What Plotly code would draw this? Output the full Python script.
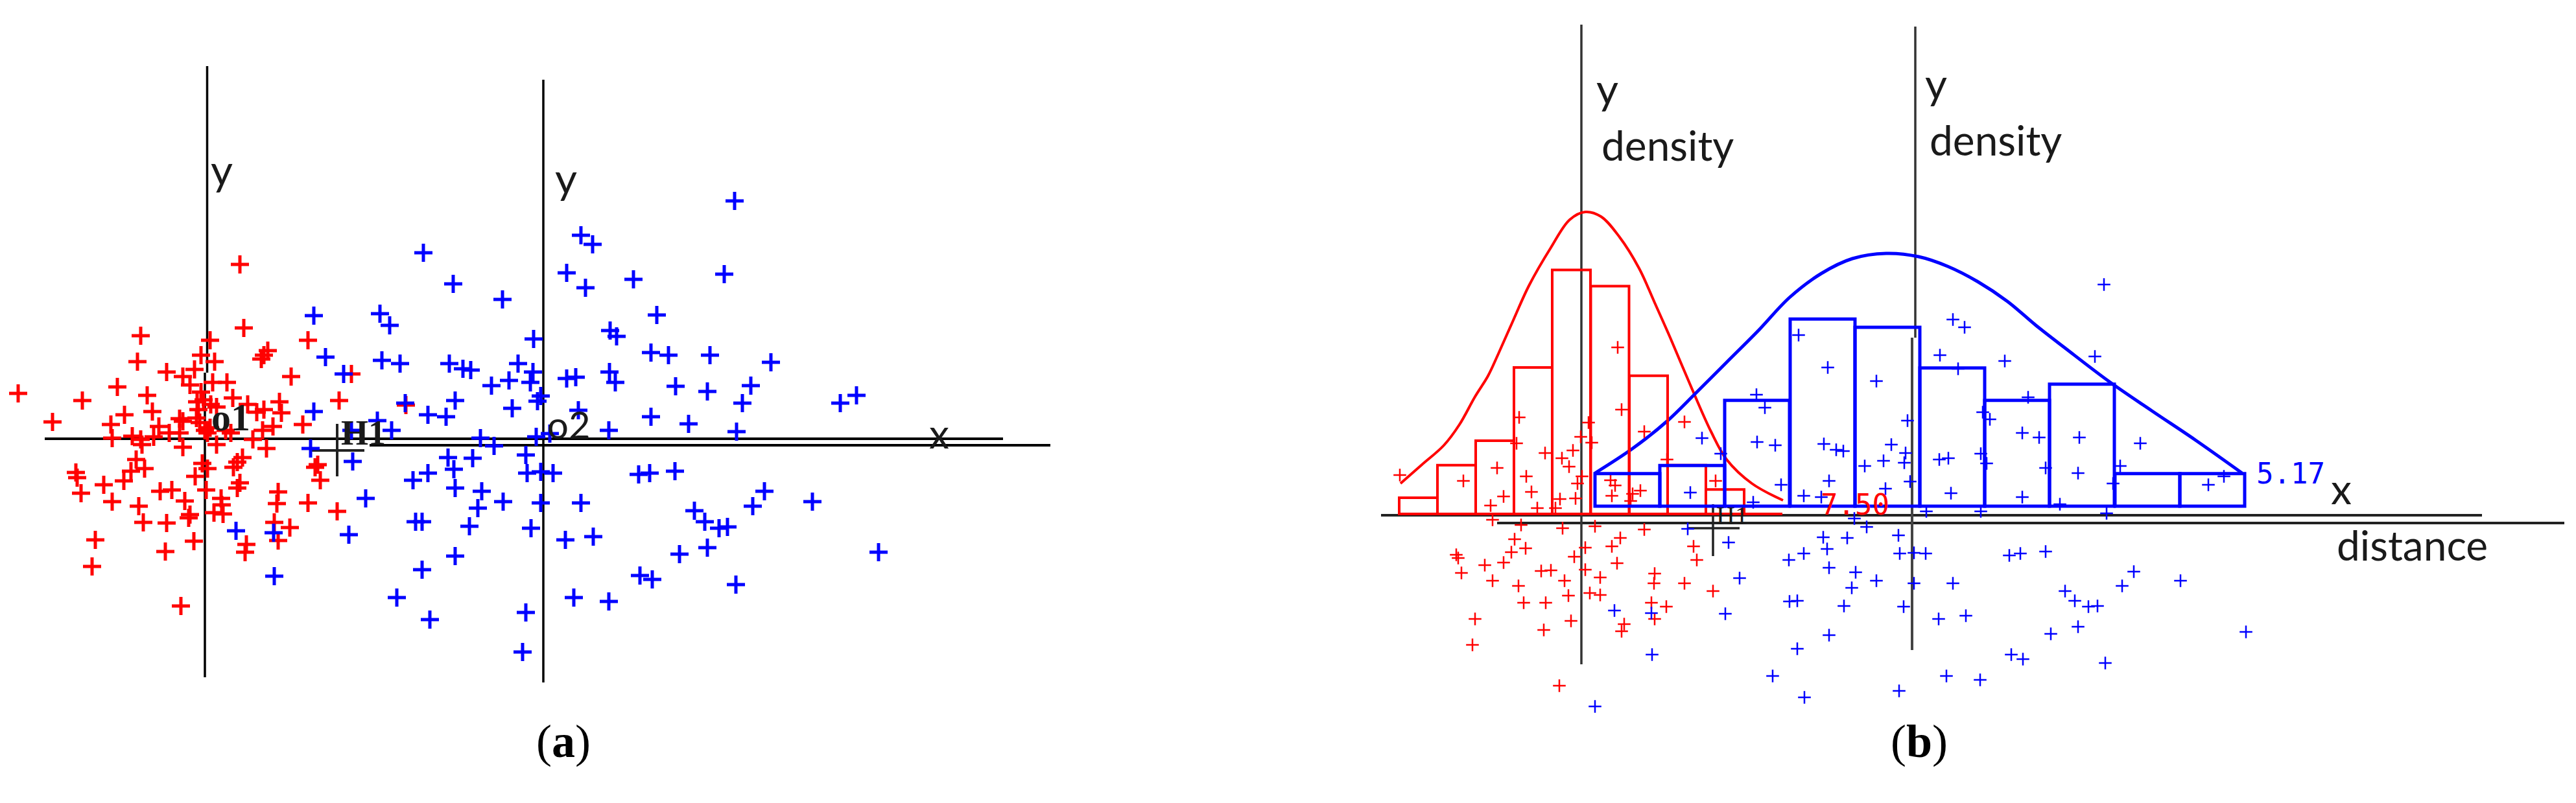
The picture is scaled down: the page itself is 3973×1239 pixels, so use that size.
import plotly.graph_objects as go

# panel (a): point positions relative to o1 (1 unit = 10 px of the original figure)
red_a_x = [5.4, 6.0, -9.9, 0.8, 15.9, -0.6, 1.5, -10.4, 9.7, 9.1, 8.7, -1.6, -5.9, -3.4, -2.3, 1.2, 3.4, 13.3,
           22.6, -13.5, -28.8, -18.9, -8.9, -0.6, 4.3, -1.2, -0.2, 0.9, 1.8, 6.6, 11.5, 20.7, 11.8, 8.0, 9.1,
           -8.1, -12.4, -23.5, -14.5, -3.9, -3.4, -1.3, -7.1, 10.5, 15.1, 8.9, -5.5, -3.9, -14.3, -11.2, -9.9,
           -9.7, -7.9, 0.4, 4.0, 7.4, -3.4, 1.8, 9.5, -10.6, 5.8, 5.0, 4.4, -0.4, 0.4, -9.3, -19.9, -19.7,
           -11.4, 17.4, 17.0, -1.5, -15.6, -12.5, 17.8, 5.4, 5.0, -19.1, -6.9, -5.1, 0.2, 11.3, 11.1, -14.3,
           -3.1, 2.5, -10.2, 15.9, 20.4, 1.4, 2.8, 2.6, -2.3, -2.5, -9.5, -5.9, 10.7, 13.1, -16.9, -1.7, 6.4,
           6.2, 11.3, -6.1, -17.4, -3.7, 31.0, -1.0, 0.0, 3.2, 0.8, -0.8]
red_a_y = [26.9, 17.1, 15.9, 15.2, 15.2, 12.9, 11.9, 11.9, 13.6, 12.9, 12.3, 10.7, 10.3, 9.6, 8.3, 8.7, 8.7, 9.6,
           10.0, 8.0, 7.0, 5.9, 6.7, 7.2, 6.3, 5.7, 6.0, 5.3, 4.9, 5.3, 5.7, 5.9, 4.0, 4.1, 4.5,
           4.2, 3.7, 2.6, 2.2, 3.1, 2.7, 3.2, 1.9, 1.9, 2.2, 1.3, 0.9, 0.9, 0.1, 0.4, -0.1,
           -0.9, 0.3, 0.9, 0.9, -0.1, -1.3, -0.9, -1.5, -3.2, -2.9, -3.6, -4.4, -3.8, -4.6, -4.6, -5.2, -6.0,
           -5.0, -4.0, -4.4, -5.8, -7.1, -6.5, -6.4, -6.8, -7.6, -8.4, -8.1, -7.9, -7.9, -8.2, -10.0, -9.7,
           -9.6, -9.2, -10.4, -9.9, -11.2, -11.4, -11.6, -10.2, -11.7, -12.2, -12.9, -13.0, -12.9, -13.7, -15.6, -15.8, -16.3,
           -17.5, -15.7, -17.4, -19.7, -25.8, 5.2, 4.5, 1.3, 1.3, 1.7, 2.5]
blue_a_x = [16.8, 18.6, 21.4, 16.8, 22.6, 16.3, 22.8, 22.2, 4.8, 10.6, 10.7,
            81.7, 33.7, 58.0, 59.8, 38.3, 45.9, 55.8, 58.7, 66.1, 80.1, 27.0, 28.5, 69.7, 50.7, 62.5, 63.5,
            27.3, 30.1, 37.7, 39.8, 41.0, 48.3, 50.6, 50.2, 46.9, 44.2, 55.8, 57.2, 62.4, 63.3, 68.8, 71.5,
            77.9, 87.3, 72.6, 77.5, 84.2, 82.9, 98.0, 100.5, 30.9, 38.6, 51.3, 51.8, 34.4, 37.2, 47.4, 57.6,
            68.8, 74.6, 62.3, 82.0, 51.1, 42.5, 44.6, 53.2, 37.5, 41.3, 49.5, 38.4, 34.4, 32.1, 49.7, 51.8,
            53.7, 66.9, 68.6, 72.5, 38.6, 42.7, 46.0, 51.8, 58.0, 42.1, 86.3, 84.5, 93.7, 75.5, 77.1, 79.3,
            80.6, 32.5, 33.5, 40.8, 50.3, 55.6, 59.9, 73.2, 77.5, 103.9, 38.6, 33.5, 67.1, 69.0, 81.9, 29.6,
            56.9, 62.3, 34.7, 49.5, 49.0, 26.6, 28.8, 24.8]
blue_a_y = [19.0, 12.6, 10.0, 4.2, 1.3, -1.5, -3.5, -14.8, -14.2, -14.5, -21.2,
            36.7, 28.7, 31.4, 30.0, 23.9, 21.5, 25.6, 23.3, 24.6, 25.4, 19.3, 17.5, 19.1, 15.4, 16.7, 15.8,
            12.1, 11.6, 11.6, 10.8, 10.6, 11.6, 10.3, 8.7, 9.0, 8.2, 9.3, 9.5, 10.3, 8.7, 13.3, 12.9,
            12.9, 11.8, 8.1, 7.3, 8.2, 5.5, 5.5, 6.7, 5.5, 5.9, 5.8, 6.6, 3.7, 3.4, 4.7, 4.4,
            3.4, 2.3, 1.3, 1.1, 0.3, 0.1, -1.1, 0.8, -2.9, -3.0, -2.5, -4.7, -5.3, -6.4, -5.3, -5.1,
            -5.3, -5.5, -5.3, -5.0, -7.6, -8.1, -9.7, -9.9, -9.9, -10.7, -8.1, -10.4, -9.7, -11.1, -12.8, -13.8,
            -13.6, -12.8, -12.8, -13.5, -13.8, -15.6, -15.1, -17.8, -16.8, -17.5, -18.1, -20.2, -21.1, -21.7, -22.5, -24.5,
            -24.5, -25.1, -27.9, -26.8, -32.9, 2.8, 1.3, -9.2]

# panel (b): positions relative to o1 on the distance axis
red_b_x = [-28.0, 5.6, 6.2, -9.6, 15.9, -0.1, 1.1, 1.6, -10.0, -5.6, -1.3, -3.0, -1.9, -13.0, -18.2, -8.5,
           -7.7, -12.0, -14.0, -6.8, -3.3, -0.9, -4.0, 0.1, -0.6, 4.5, 5.2, 4.7, 7.9, 9.1, 7.6, 13.2, 9.7,
           20.7, -13.7, -9.3, -2.9, 2.1, 9.7, 6.0, 4.7, 0.6, -1.1, -10.3, -8.6, -10.8, -19.3, -19.0, -14.9,
           -12.0, -18.5, -13.7, -9.7, -6.2, -4.7, -2.6, 0.6, 2.9, 5.5, 11.3, 11.2, 15.9, 17.3, 17.8, 20.3,
           -2.0, 1.3, 2.9, -8.9, -5.5, 10.8, 13.1, 11.3, 6.6, 6.2, -1.6, -5.8, -16.4, -16.8, -3.4]
red_b_y = [6.2, 25.9, 16.3, 15.1, 14.4, 12.1, 14.3, 11.2, 11.1, 9.6, 10.0, 8.8, 7.5, 7.3, 5.3, 6.0,
           3.6, 2.9, 1.5, 1.1, 2.5, 2.6, 1.1, 6.0, 4.9, 5.4, 4.6, 3.0, 3.3, 3.8, 2.2, 8.6, 12.9,
           5.3, -0.7, -1.5, -2.0, -1.7, -2.2, -3.5, -4.8, -5.0, -6.4, -3.7, -5.1, -5.7, -6.1, -6.6, -7.7,
           -7.3, -8.9, -10.1, -10.9, -8.6, -8.5, -10.1, -8.4, -9.6, -7.4, -9.0, -10.5, -10.5, -4.8, -6.9, -11.7,
           -12.4, -12.0, -12.3, -13.5, -13.5, -13.5, -14.1, -16.0, -16.8, -17.9, -16.3, -17.7, -16.0, -20.0, -26.3]
blue_b_x = [18.6, 27.0, 28.3, 27.1, 29.9, 21.5, 16.8, 30.8, 26.5, 34.3, 37.0, 33.5, 38.0, 37.4, 39.3, 40.4,
            38.2, 43.7, 16.4, 22.7, 24.4, 22.2, 10.8, 5.1, 10.9, 2.1, 29.5, 34.4, 33.3, 38.2, 32.1, 33.3,
            40.5, 41.7, 42.3, 38.2, 32.0, 34.3, 37.9, 37.3, 41.0, 44.0, 42.1,
            80.6, 57.3, 59.1, 55.3, 65.3, 79.2, 58.1, 45.5, 68.9, 50.3, 61.9, 63.0, 68.0, 70.6, 76.8, 47.8,
            86.2, 50.0, 46.6, 49.8, 61.6, 62.5, 55.2, 56.6, 71.6, 76.6, 83.1, 82.0, 96.7, 99.1, 46.9, 57.0,
            50.7, 68.0, 73.8, 61.6, 81.0, 53.2, 48.9, 49.1, 51.3, 53.1, 66.0, 67.7, 71.6, 45.5, 51.3, 57.3,
            85.2, 83.4, 74.6, 76.1, 78.2, 79.6, 92.4, 49.7, 55.1, 59.3, 72.4, 76.6, 102.5, 66.3, 68.1, 80.8,
            56.3, 61.5, 49.0]
blue_b_y = [11.9, 18.6, 16.6, 11.3, 10.8, 9.5, 3.5, 4.7, 2.0, 3.0, 2.8, 27.8, 22.8, 11.0, 10.1, 9.9,
            5.3, 7.6, -2.1, -4.2, -9.7, -15.2, -15.1, -14.7, -21.5, -29.5, -24.8, -28.1, -20.6, -18.5, -13.3, -13.2,
            -14.0, -11.2, -8.8, -8.1, -6.9, -5.9, -5.2, -3.4, -3.5, -1.8, -0.5,
            35.6, 30.2, 29.0, 24.7, 23.8, 24.5, 22.6, 20.7, 18.2, 14.6, 15.9, 14.8, 12.7, 12.0, 12.0, 10.9,
            11.1, 9.6, 8.4, 8.1, 9.5, 8.0, 8.6, 8.8, 7.3, 6.5, 7.6, 4.9, 4.7, 6.0, 4.1, 3.4,
            5.2, 2.8, 1.7, 0.6, 0.3, 0.6, -3.1, -5.9, -5.8, -5.9, -6.2, -5.9, -5.6, -10.1, -10.5, -10.5,
            -8.7, -10.9, -11.7, -13.2, -14.1, -14.0, -10.1, -14.1, -16.0, -15.5, -18.3, -17.2, -18.0, -21.5, -22.2, -22.8,
            -24.8, -25.4, -27.1]

# histograms (counts per bin) and fitted density curves
red_bins = [-25.15, -19.25, -13.35, -7.45, -1.55, 4.4, 10.35, 16.25, 22.15, 28.05]
red_counts = [2, 6, 9, 18, 30, 28, 17, 6, 3, 0]
blue_bins = [7.1, 17.1, 27.1, 37.2, 47.2, 57.2, 67.2, 77.2, 87.3, 97.3]
blue_counts = [4, 5, 13, 23, 22, 17, 13, 15, 4, 4]

red_curve_x = [-27.9, -24.6, -21.2, -18.8, -16.4, -14.4, -12.9, -10.5, -8.1, -4.7, -1.8, 0.6, 3.0, 5.9, 8.9,
               11.3, 13.7, 17.1, 20.0, 22.4, 26.3, 31.1]
red_curve_y = [4.9, 7.8, 10.8, 14.0, 18.3, 21.5, 24.7, 30.1, 35.4, 41.3, 45.6, 46.8, 46.1, 42.9, 38.1,
               32.8, 27.4, 19.4, 12.9, 8.6, 4.9, 2.3]
blue_curve_x = [2.1, 7.9, 13.2, 17.6, 22.4, 27.3, 32.1, 37.0, 41.8, 47.0, 52.0, 56.5, 61.2, 65.7,
                70.1, 74.6, 81.3, 88.0, 94.7, 101.9]
blue_curve_y = [6.5, 10.3, 14.5, 18.8, 23.6, 28.5, 33.6, 37.3, 39.6, 40.4, 39.9, 38.4, 36.0, 33.0,
                29.3, 25.8, 20.7, 16.1, 11.6, 6.5]

RED = '#ff0000'
BLUE = '#0000ff'
INK = '#1a1a1a'

fig = go.Figure()

fig.add_trace(go.Scatter(x=red_a_x, y=red_a_y, mode='markers', xaxis='x', yaxis='y',
                         marker=dict(symbol='cross-thin', size=20, line=dict(width=5, color=RED))))
fig.add_trace(go.Scatter(x=blue_a_x, y=blue_a_y, mode='markers', xaxis='x', yaxis='y',
                         marker=dict(symbol='cross-thin', size=20, line=dict(width=5, color=BLUE))))

fig.add_trace(go.Bar(x=red_bins, y=red_counts, width=5.9, xaxis='x2', yaxis='y3',
                     marker=dict(color='rgba(0,0,0,0)', line=dict(color=RED, width=4))))
fig.add_trace(go.Bar(x=blue_bins, y=blue_counts, width=10.0, xaxis='x2', yaxis='y4',
                     marker=dict(color='rgba(0,0,0,0)', line=dict(color=BLUE, width=5))))
fig.add_trace(go.Scatter(x=red_curve_x, y=red_curve_y, mode='lines', line_shape='spline', xaxis='x2', yaxis='y2',
                         line=dict(color=RED, width=4)))
fig.add_trace(go.Scatter(x=blue_curve_x, y=blue_curve_y, mode='lines', line_shape='spline', xaxis='x2', yaxis='y2',
                         line=dict(color=BLUE, width=5)))
fig.add_trace(go.Scatter(x=red_b_x, y=red_b_y, mode='markers', xaxis='x2', yaxis='y2',
                         marker=dict(symbol='cross-thin', size=14, line=dict(width=2.5, color=RED))))
fig.add_trace(go.Scatter(x=blue_b_x, y=blue_b_y, mode='markers', xaxis='x2', yaxis='y2',
                         marker=dict(symbol='cross-thin', size=14, line=dict(width=2.5, color=BLUE))))

# axis lines drawn into the plots
def seg(x0, y0, x1, y1, xr, yr, w=4, c='black'):
    fig.add_shape(type='line', x0=x0, y0=y0, x1=x1, y1=y1, xref=xr, yref=yr,
                  line=dict(color=c, width=w), layer='below')

seg(-24.7, 0, 123.1, 0, 'x', 'y')
seg(25.4, -1.0, 130.4, -1.0, 'x', 'y')
seg(0.35, 57.5, 0.35, 10.2, 'x', 'y', 3.5)
seg(0, 10.2, 0, -36.8, 'x', 'y', 3.5)
seg(52.2, 55.4, 52.2, -37.6, 'x', 'y', 3.5)
seg(20.4, 2.3, 20.4, -5.8, 'x', 'y', 4, '#222')
seg(16.4, -1.8, 24.6, -1.8, 'x', 'y', 4, '#222')

seg(-30.9, 0, 138.9, 0, 'x2', 'y2', 4, '#222')
seg(-13.0, -1.2, 151.6, -1.2, 'x2', 'y2', 4, '#222')
seg(0, 75.7, 0, -23.0, 'x2', 'y2', 3.5, '#333')
seg(51.5, 75.4, 51.5, 27.4, 'x2', 'y2', 3.5, '#333')
seg(51.0, 27.4, 51.0, -20.8, 'x2', 'y2', 4, '#444')
seg(20.3, 1.7, 20.3, -6.3, 'x2', 'y2', 3.5, '#222')
seg(16.3, -2.0, 24.4, -2.0, 'x2', 'y2', 3.5, '#222')

SANS = 'Lato, Liberation Sans, sans-serif'
SERIF = 'Liberation Serif, serif'
MONO = 'DejaVu Sans Mono, monospace'

def label(text, x, y, xr, yr, size, fam=SANS, color=INK):
    fig.add_annotation(text=text, x=x, y=y, xref=xr, yref=yr, showarrow=False,
                       font=dict(family=fam, size=size, color=color))

label('y', 2.6, 41.7, 'x', 'y', 66)
label('y', 55.7, 40.4, 'x', 'y', 66)
label('<b>o1</b>', 4.0, 3.3, 'x', 'y', 60, SERIF)
label('o2', 56.2, 2.3, 'x', 'y', 58)
label('<b>H1</b>', 24.4, 0.9, 'x', 'y', 54, SERIF)
label('x', 113.3, 0.9, 'x', 'y', 62)

label('y', 4.0, 66.0, 'x2', 'y2', 66)
label('density', 13.3, 57.2, 'x2', 'y2', 64)
label('y', 54.7, 66.8, 'x2', 'y2', 66)
label('density', 63.9, 58.0, 'x2', 'y2', 64)
label('distance', 128.2, -4.5, 'x2', 'y2', 64)
label('x', 117.2, 4.2, 'x2', 'y2', 64)
label('5.17', 109.4, 6.5, 'x2', 'y2', 44, MONO, BLUE)
label('7.50', 42.2, 1.7, 'x2', 'y2', 44, MONO, RED)
label('H1', 23.3, 0.0, 'x2', 'y2', 40, SERIF)

label('(<b>a</b>)', 0.2077, 0.043, 'paper', 'paper', 72, SERIF, 'black')
label('(<b>b</b>)', 0.7566, 0.043, 'paper', 'paper', 72, SERIF, 'black')

hidden = dict(visible=False, showgrid=False, zeroline=False, fixedrange=True)
fig.update_layout(
    width=3973, height=1239,
    margin=dict(l=0, r=0, t=0, b=0),
    paper_bgcolor='white', plot_bgcolor='white',
    showlegend=False, barmode='overlay',
    xaxis=dict(domain=[0, 0.4153], range=[-31.6, 133.4], **hidden),
    yaxis=dict(domain=[0, 1], range=[-56.2, 67.7], anchor='x', **hidden),
    xaxis2=dict(domain=[0.51598, 1], range=[-38.9, 153.4], anchor='y2', **hidden),
    yaxis2=dict(domain=[0, 1], range=[-44.4, 79.5], anchor='x2', **hidden),
    yaxis3=dict(range=[-35.54, 63.19], overlaying='y2', anchor='x2', **hidden),
    yaxis4=dict(range=[-36.49, 62.23], overlaying='y2', anchor='x2', **hidden),
)

fig.write_html("out.html", config={'displayModeBar': False},
               post_script="document.body.style.margin='0';document.body.style.overflow='hidden';")
